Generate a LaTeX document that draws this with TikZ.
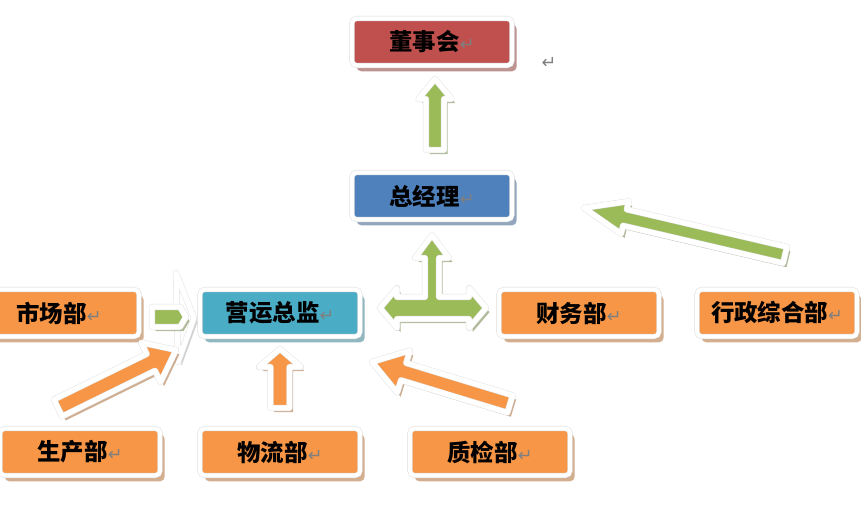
\documentclass[tikz,border=0pt]{standalone}
\usepackage{fontspec}
\newfontfamily\cjk{Noto Sans CJK SC}
\newfontfamily\dejavu{DejaVu Sans}
\usetikzlibrary{calc,shadows}

\definecolor{boardred}{HTML}{C0504D}
\definecolor{gmblue}{HTML}{4F81BD}
\definecolor{coocyan}{HTML}{4BACC6}
\definecolor{deptorange}{HTML}{F79646}
\definecolor{arrgreen}{HTML}{9BBB59}
\definecolor{markgray}{HTML}{7F7F7F}

\newcommand{\retmark}{{\dejavu\mdseries\fontsize{15}{15}\selectfont\color{markgray}↵}}
% block arrow: style, tail, tip, shaft half width, head half width, head length
\newcommand{\blockarrow}[6]{%
  \coordinate (#2-#3-h) at ($(#3)!#6!(#2)$);
  \path[#1] ($(#2)!#4!90:(#3)$) -- ($(#2-#3-h)!#4!-90:(#2)$) -- ($(#2-#3-h)!#5!-90:(#2)$) -- (#3)
    -- ($(#2-#3-h)!#5!90:(#2)$) -- ($(#2-#3-h)!#4!90:(#2)$) -- ($(#2)!#4!-90:(#3)$) -- cycle;}

\begin{document}
\begin{tikzpicture}[x=0.03cm, y=-0.03cm,
    box/.style={rectangle, rounded corners=4pt, fill=#1, draw=black!15, double=white, double distance=3.5pt,
      minimum width=4.8cm, minimum height=1.41cm, inner sep=0pt, font=\cjk\bfseries\fontsize{20}{24}\selectfont,
      drop shadow={shadow xshift=4pt, shadow yshift=-5pt, fill=#1!55!gray, opacity=0.7}},
    arr/.style={fill=#1, draw=black!12, double=white, double distance=4.5pt, line join=round,
      drop shadow={shadow xshift=3pt, shadow yshift=-3.5pt, fill=#1!50!gray, opacity=0.7}}]

    \useasboundingbox (0,0) rectangle (861,511);

    \node[box=boardred] (board) at (432,42) {董事会\retmark};
    \node[box=gmblue] (gm) at (432,196) {总经理\retmark};
    \node[box=coocyan] (coo) at (280,313) {营运总监\retmark};
    \node[box=deptorange] (mkt) at (59,313) {市场部\retmark};
    \node[box=deptorange] (fin) at (579,313) {财务部\retmark};
    \node[box=deptorange] (admin) at (777,313) {行政综合部\retmark};
    \node[box=deptorange] (prod) at (80,452) {生产部\retmark};
    \node[box=deptorange] (logi) at (280,452) {物流部\retmark};
    \node[box=deptorange] (qc) at (490,452) {质检部\retmark};
    \node[font=\dejavu\fontsize{15}{15}\selectfont, text=markgray] (mark) at (549,63) {↵};

    % arrow ends
    \coordinate (gmup-t) at (435,150);
    \coordinate (gmup-p) at (435,79);
    \coordinate (adm-t) at (785,255);
    \coordinate (adm-p) at (584,208);
    \coordinate (prod-t) at (58,408);
    \coordinate (prod-p) at (176,350);
    \coordinate (logi-t) at (280,408);
    \coordinate (logi-p) at (280,349);
    \coordinate (qc-t) at (510,404);
    \coordinate (qc-p) at (372,362);

    \blockarrow{arr=arrgreen}{gmup-t}{gmup-p}{0.27cm}{0.5cm}{0.6cm}
    \blockarrow{arr=arrgreen}{adm-t}{adm-p}{0.25cm}{0.5cm}{1.26cm}

    % three way arrow
    \path[arr=arrgreen] (432,235) -- (449,258) -- (439,258) -- (439,297) -- (469,297) -- (469,288) -- (486,308)
      -- (469,328) -- (469,319) -- (397,319) -- (397,328) -- (380,308) -- (397,288) -- (397,297) -- (425,297)
      -- (425,258) -- (415,258) -- cycle;

    % market arrow
    \path[arr=white] (176,273) -- (194,318) -- (178,362) -- cycle;
    \path[arr=arrgreen] (152,307) -- (180,307) -- (186,317) -- (180,327) -- (152,327) -- cycle;

    \blockarrow{arr=deptorange}{prod-t}{prod-p}{0.28cm}{0.66cm}{0.84cm}
    \blockarrow{arr=deptorange}{logi-t}{logi-p}{0.285cm}{0.63cm}{0.54cm}
    \blockarrow{arr=deptorange}{qc-t}{qc-p}{0.27cm}{0.66cm}{0.99cm}
\end{tikzpicture}
\end{document}
